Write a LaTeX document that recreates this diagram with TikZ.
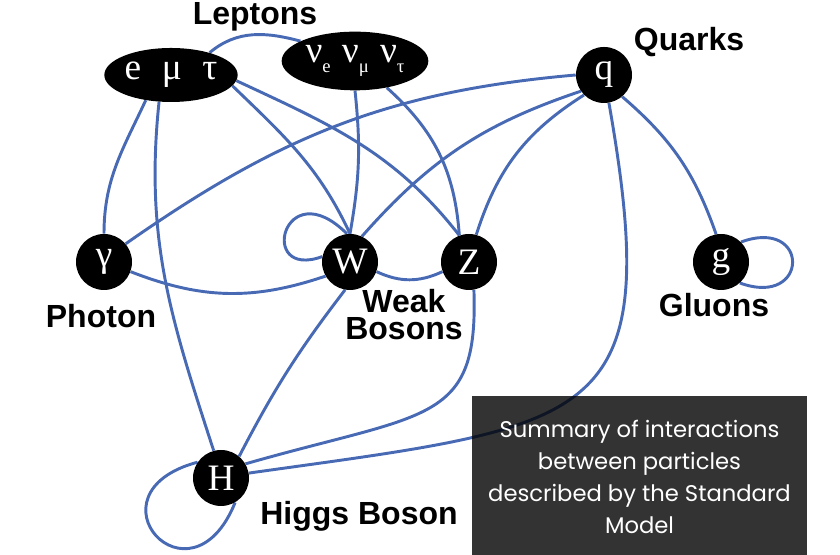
\documentclass[tikz,border=0pt]{standalone}
\usepackage{fontspec}
\newfontfamily\partfont{Liberation Serif}
\newfontfamily\tagfont{Liberation Sans}
\newfontfamily\notefont{Poppins}
\usetikzlibrary{shapes.geometric,backgrounds}
\definecolor{linkblue}{RGB}{72,106,180}
\newcommand\nusub[1]{\raisebox{-0.28em}{\fontsize{14}{14}\selectfont #1}}

\begin{document}
\begin{tikzpicture}[x=0.75pt, y=0.75pt,
        particle/.style={circle, fill=black, text=white, inner sep=0pt, minimum size=42pt, font=\partfont\fontsize{28}{30}\selectfont},
        family/.style={ellipse, fill=black, text=white, inner sep=0pt, font=\partfont\fontsize{28}{30}\selectfont},
        tag/.style={font=\tagfont\bfseries\fontsize{24}{20.25}\selectfont, align=center},
        notebox/.style={fill=black, fill opacity=0.8, text opacity=1, text=white, align=center, font=\notefont\fontsize{17}{24}\selectfont},
        link/.style={color=linkblue, line width=2.2pt}]

        \useasboundingbox (0,0) rectangle (840,555);

        \node [family, minimum width=100pt, minimum height=40.5pt] (lep) at (171,480) {e\hspace{0.55em}μ\hspace{0.55em}τ};
        \node [family, minimum width=110pt, minimum height=44pt] (nu) at (355,494) {ν\nusub{e}\hspace{0.3em}ν\nusub{μ}\hspace{0.3em}ν\nusub{τ}};
        \node [particle] (qk) at (604,480) {q};
        \node [particle] (ph) at (104,293) {γ};
        \node [particle] (wb) at (350,293) {W};
        \node [particle] (zb) at (469,293) {Z};
        \node [particle] (gl) at (721,293) {g};
        \node [particle] (hb) at (221,77) {H};

        \node [tag] (leptag) at (255,538) {Leptons};
        \node [tag] (qtag) at (689,513) {Quarks};
        \node [tag] (phtag) at (101,239) {Photon};
        \node [tag] (wztag) at (404,240) {Weak\\Bosons};
        \node [tag] (gtag) at (714,250) {Gluons};
        \node [tag] (htag) at (359,39) {Higgs Boson};

        \begin{scope}[on background layer]
        \begin{scope}[link]
        \draw (lep.30) to[out=40, in=165] (nu.160);
        \draw (lep.-135) to[out=-115, in=90] (ph.north);
        \draw (lep.-114) to[out=-96, in=108] (hb.105);
        \draw (lep.-10) to[out=-44, in=115] (wb.north);
        \draw (lep.-5) to[out=-25, in=128] (zb.110);
        \draw (nu.south) to[bend left=8] (wb.north);
        \draw (nu.-40) to[bend left=22] (zb.110);
        \draw (qk.west) to[out=185, in=35] (ph.40);
        \draw (qk.215) to[bend right=15] (wb.65);
        \draw (qk.-135) to[bend right=20] (zb.75);
        \draw (qk.-50) to[bend left=15] (gl.100);
        \draw (qk.-80) .. controls +(-80:330) and +(8:350) .. (hb.10);
        \draw (ph.-20) to[bend right=20] (wb.210);
        \draw (wb.-20) to[bend right=25] (zb.200);
        \draw (wb.-100) to[bend right=5] (hb.50);
        \draw (zb.-80) .. controls +(-88:135) and +(16:190) .. (hb.30);
        % self couplings
        \draw (wb.96) .. controls +(135:90) and +(200:70) .. (wb.169);
        \draw (gl.45) .. controls +(20:74) and +(-20:74) .. (gl.-48);
        \draw (hb.146) .. controls +(195:120) and +(248:120) .. (hb.-60);
        \end{scope}
        \end{scope}

        \node [notebox, minimum width=251.25pt, minimum height=120.75pt] (summary) at (639.5,78) {Summary of interactions\\between particles\\described by the Standard\\Model};

\end{tikzpicture}
\end{document}
